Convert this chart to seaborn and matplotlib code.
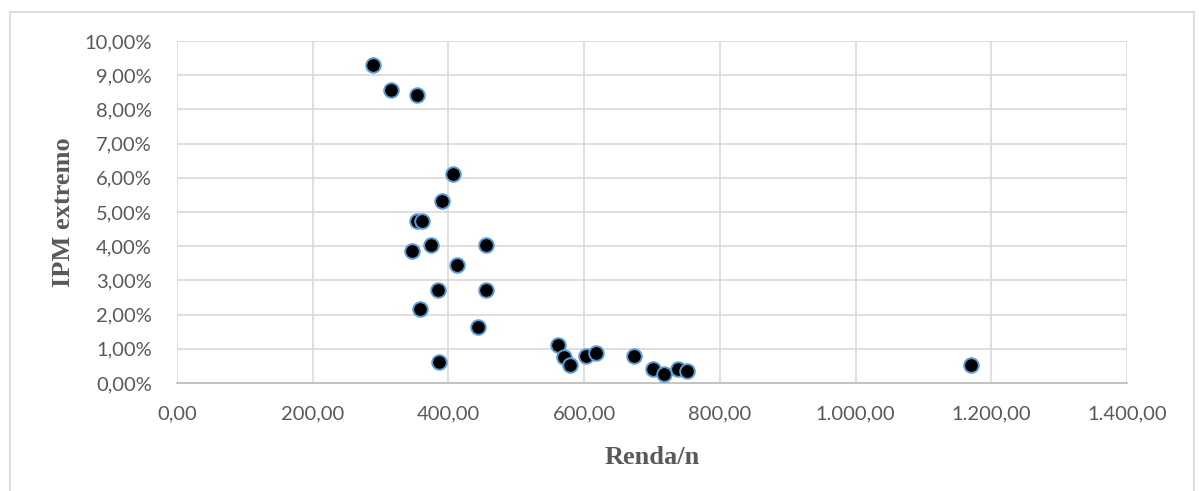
import matplotlib
matplotlib.use("Agg")
import matplotlib.pyplot as plt
from matplotlib.ticker import FuncFormatter, MultipleLocator
from matplotlib.lines import Line2D
import seaborn as sns
import pandas as pd

# Renda per capita (R$) and extreme multidimensional poverty index (%)
renda = [288.7, 315.7, 354.0, 406.9, 391.2, 354.4, 361.3, 345.6, 374.0,
         455.9, 413.2, 385.3, 454.9, 358.8, 443.6, 386.3,
         561.3, 569.6, 579.4, 602.5, 617.2, 674.0, 702.0, 717.2, 737.8,
         752.0, 1170.6]
ipm_extremo = [9.31, 8.57, 8.43, 6.12, 5.31, 4.75, 4.73, 3.86, 4.04,
               4.04, 3.44, 2.72, 2.72, 2.16, 1.65, 0.62,
               1.10, 0.77, 0.53, 0.80, 0.87, 0.78, 0.42, 0.25, 0.41,
               0.34, 0.53]

x_label = "Renda/n"
y_label = "IPM extremo"

df = pd.DataFrame({x_label: renda, y_label: [v / 100 for v in ipm_extremo]})

sns.set_theme(style="white")
plt.rcParams["font.family"] = ["Lato", "DejaVu Sans"]

fig = plt.figure(figsize=(11.99, 4.91), dpi=100)
ax = fig.add_axes([177 / 1199, 108 / 491, 950 / 1199, 342 / 491])

grid_c = "#D9D9D9"
text_c = "#595959"

sns.scatterplot(data=df, x=x_label, y=y_label, ax=ax, s=110,
                color="black", edgecolor="#5B9BD5", linewidth=1.4, zorder=3)

ax.set_xlim(0, 1400)
ax.set_ylim(0, 0.10)
ax.xaxis.set_major_locator(MultipleLocator(200))
ax.yaxis.set_major_locator(MultipleLocator(0.01))


def br_number(v, _pos=None):
    s = f"{v:,.2f}"
    return s.replace(",", "X").replace(".", ",").replace("X", ".")


def br_percent(v, _pos=None):
    return f"{v * 100:.2f}%".replace(".", ",")


ax.xaxis.set_major_formatter(FuncFormatter(br_number))
ax.yaxis.set_major_formatter(FuncFormatter(br_percent))

ax.grid(True, color=grid_c, linewidth=1.2)
ax.set_axisbelow(True)
for side in ("left", "right", "top"):
    ax.spines[side].set_visible(False)
ax.spines["bottom"].set_color("#BFBFBF")
ax.spines["bottom"].set_linewidth(1.3)

ax.tick_params(axis="both", length=0, labelsize=14.5, colors=text_c)
ax.tick_params(axis="x", pad=16)
ax.tick_params(axis="y", pad=18)

label_font = dict(family="Liberation Serif", weight="bold", size=19, color=text_c)
ax.set_xlabel(x_label, labelpad=17, **label_font)
ax.set_ylabel(y_label, labelpad=7, **label_font)

# Chart-area border
W, H = 1199, 491
for (x0, y0, x1, y1) in [(10, 12, 1194, 12), (10, 12, 10, 491), (1194, 12, 1194, 491)]:
    fig.add_artist(Line2D([x0 / W, x1 / W], [1 - y0 / H, 1 - y1 / H],
                          color=grid_c, linewidth=1.2, transform=fig.transFigure))

fig.savefig("out.png", dpi=100)
